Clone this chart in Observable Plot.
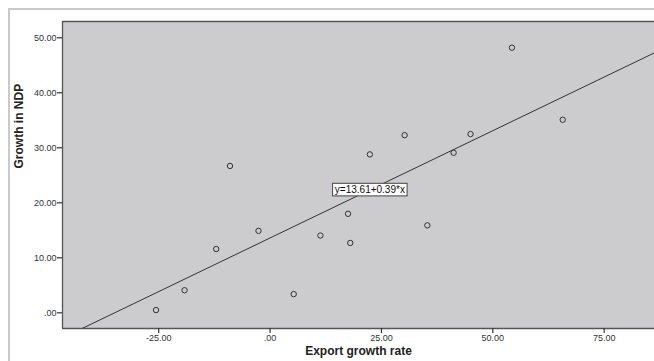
<!DOCTYPE html>
<html>
<head>
<meta charset="utf-8">
<script src="https://cdn.jsdelivr.net/npm/d3@7"></script>
<script src="https://cdn.jsdelivr.net/npm/@observablehq/plot@0.6"></script>
<style>
  html, body { margin: 0; padding: 0; background: #fff; }
  #chart { position: relative; width: 654px; height: 361px; overflow: hidden; }
  #chart svg { position: absolute; left: 0; top: 0; }
  /* light outer panel edge, like the SPSS chart viewer */
  #chart .pane {
    position: absolute; left: 8px; top: 8px; right: -10px; bottom: -10px;
    border-top: 2px solid #cacaca; border-left: 2px solid #cacaca;
    pointer-events: none;
  }
</style>
</head>
<body>
<div id="chart"></div>
<script>
// Export growth rate vs. growth in NDP, one value per observation
const exportGrowth = [-25.6, -19.2, -12.1, -9.0, -2.6, 5.3, 11.3, 17.5, 18.0, 22.4, 30.2, 35.3, 41.2, 45.0, 54.3, 65.7];
const ndpGrowth    = [0.5, 4.1, 11.6, 26.7, 14.9, 3.4, 14.05, 18.0, 12.7, 28.8, 32.3, 15.9, 29.1, 32.5, 48.2, 35.1];

// axis ticks
const xTicks = [-25, 0, 25, 50, 75];
const yTicks = [0, 10, 20, 30, 40, 50];

// fitted linear model and where its label sits along x
const fitIntercept = 13.61;
const fitSlope = 0.39;
const fitLabelAt = 22.4;

const xTitle = "Export growth rate";
const yTitle = "Growth in NDP";

const xDomain = [-46.6, 86.3];
const yDomain = [-2.85, 52.96];

const points = exportGrowth.map((x, i) => ({x, y: ndpGrowth[i]}));
const fitLine = xDomain.map(x => ({x, y: fitIntercept + fitSlope * x}));
const equation = `y=${fitIntercept.toFixed(2)}+${fitSlope.toFixed(2)}*x`;
const labelRow = [{x: fitLabelAt, y: fitIntercept + fitSlope * fitLabelAt, label: equation}];

// SPSS-style numbers: two decimals, no leading zero
const spss = d => d.toFixed(2).replace(/^(-?)0\./, "$1.");

const ink = "#333";

const chart = Plot.plot({
  width: 654,
  height: 361,
  marginLeft: 62,
  marginRight: 0,
  marginTop: 21,
  marginBottom: 33,
  style: {
    background: "transparent",
    fontFamily: "'Liberation Sans', Arial, sans-serif",
    fontSize: "9px",
    color: ink
  },
  x: {domain: xDomain},
  y: {domain: yDomain},
  marks: [
    Plot.frame({fill: "#cccccf", stroke: null}),
    Plot.ruleX([xDomain[0]], {stroke: "#555", strokeWidth: 1.3}),
    Plot.ruleY(yDomain, {stroke: "#555", strokeWidth: 1.3}),
    Plot.axisX({ticks: xTicks, tickFormat: spss, tickSize: 5, tickPadding: 1, label: null, strokeWidth: 1.2}),
    Plot.axisY({ticks: yTicks, tickFormat: spss, tickSize: 5, tickPadding: 1, label: null, strokeWidth: 1.2}),
    Plot.line(fitLine, {x: "x", y: "y", stroke: ink, strokeWidth: 1, clip: true}),
    Plot.dot(points, {x: "x", y: "y", r: 2.7, stroke: ink, strokeWidth: 1, fill: "none"}),
    Plot.text(labelRow, {x: "x", y: "y", text: "label", fontSize: 10, fill: "#111"}),
    Plot.text([xTitle], {text: d => d, frameAnchor: "bottom", dy: 26.5, fontSize: 12, fontWeight: "bold", fill: "#222"}),
    Plot.text([yTitle], {text: d => d, frameAnchor: "left", rotate: -90, dx: -43, dy: -6.5, fontSize: 12, fontWeight: "bold", fill: "#222"})
  ]
});

const host = document.getElementById("chart");
host.appendChild(chart);
const pane = document.createElement("div");
pane.className = "pane";
host.appendChild(pane);

// white boxed background behind the equation label
const t = Array.from(chart.querySelectorAll("text")).find(el => el.textContent === equation);
if (t) {
  const b = t.getBBox();
  const rect = document.createElementNS("http://www.w3.org/2000/svg", "rect");
  rect.setAttribute("x", b.x - 2.2);
  rect.setAttribute("y", b.y - 0.8);
  rect.setAttribute("width", b.width + 4.4);
  rect.setAttribute("height", b.height + 1.6);
  rect.setAttribute("fill", "#fff");
  rect.setAttribute("stroke", "#444");
  rect.setAttribute("stroke-width", "1");
  if (t.getAttribute("transform")) rect.setAttribute("transform", t.getAttribute("transform"));
  t.parentNode.insertBefore(rect, t);
}
</script>
</body>
</html>
